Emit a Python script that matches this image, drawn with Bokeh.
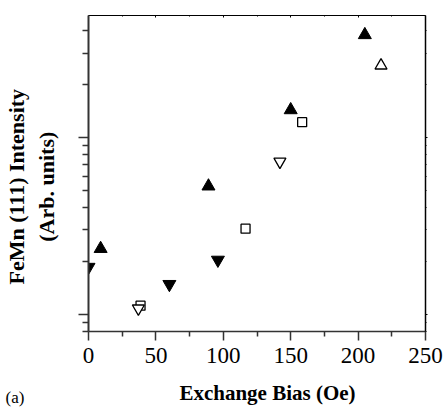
from bokeh.plotting import figure
from bokeh.models import Range1d, FixedTicker, LinearAxis, LogAxis, Title, CustomJSTickFormatter
from bokeh.embed import file_html
from bokeh.resources import INLINE

# data (exchange bias in Oe, FeMn (111) intensity in arbitrary units)
up_filled_x = [9, 89, 150, 205]
up_filled_y = [2.35, 5.3, 14.3, 38.0]
down_filled_x = [0, 60, 96]
down_filled_y = [1.85, 1.48, 2.03]
square_open_x = [38.6, 116.5, 158.5]
square_open_y = [1.12, 3.05, 12.2]
down_open_x = [37, 142]
down_open_y = [1.08, 7.3]
up_open_x = [217]
up_open_y = [25.5]

x_ticks = [0, 50, 100, 150, 200, 250]
x_minor = [25, 75, 125, 175, 225]
y_ticks = [1, 10]
y_minor = [0.8, 0.9, 2, 3, 4, 5, 6, 7, 8, 9, 20, 30, 40]

x_label = "\u2002\u2002Exchange Bias (Oe)"
y_label = "FeMn (111) Intensity\u2003\u2009\n(Arb. units)\u2003\u2009"
panel_label = "(a)"

FONT = "Liberation Serif"
AXC = "#333333"

def blank():
    return CustomJSTickFormatter(code="return ''")

p = figure(width=446, height=407, output_backend="svg", toolbar_location=None,
           y_axis_type="log", x_range=Range1d(0, 250), y_range=Range1d(0.8, 48.9),
           min_border_left=88, min_border_right=21, min_border_top=15, min_border_bottom=76)
p.grid.visible = False
p.outline_line_color = None
p.background_fill_color = "white"
p.border_fill_color = "white"

xt = FixedTicker(ticks=x_ticks, minor_ticks=x_minor)
yt = FixedTicker(ticks=y_ticks, minor_ticks=y_minor)

xa = p.xaxis[0]
xa.ticker = xt
xa.axis_line_color = AXC
xa.axis_line_width = 1.5
xa.major_tick_line_color = AXC
xa.minor_tick_line_color = AXC
xa.major_tick_line_width = 1.5
xa.minor_tick_line_width = 1.5
xa.major_tick_out = 9
xa.major_tick_in = 0
xa.minor_tick_out = 5
xa.minor_tick_in = 0
xa.major_label_text_font = FONT
xa.major_label_text_font_size = "23px"
xa.major_label_text_color = "black"
xa.major_label_standoff = 7
xa.axis_label = x_label
xa.axis_label_text_font = FONT
xa.axis_label_text_font_style = "bold"
xa.axis_label_text_font_size = "21px"
xa.axis_label_text_color = "black"
xa.axis_label_standoff = 15

ya = p.yaxis[0]
ya.ticker = yt
ya.formatter = blank()
ya.axis_line_color = AXC
ya.axis_line_width = 2
ya.major_tick_line_color = AXC
ya.minor_tick_line_color = AXC
ya.major_tick_line_width = 1.5
ya.minor_tick_line_width = 1.5
ya.major_tick_out = 10
ya.major_tick_in = 0
ya.minor_tick_out = 6
ya.minor_tick_in = 0
ya.major_label_standoff = 0
ya.axis_label = y_label
ya.axis_label_text_font = FONT
ya.axis_label_text_font_style = "bold"
ya.axis_label_text_font_size = "22px"
ya.axis_label_text_color = "black"
ya.axis_label_standoff = 20

ta = LinearAxis(ticker=xt, formatter=blank(), axis_line_color="black", major_label_standoff=0,
                axis_line_width=1, major_tick_line_color="black", minor_tick_line_color="black",
                major_tick_out=0, major_tick_in=2, minor_tick_out=0, minor_tick_in=1)
p.add_layout(ta, "above")
ra = LogAxis(ticker=yt, formatter=blank(), axis_line_color="black", major_label_standoff=0,
             axis_line_width=1.5, major_tick_line_color="black", minor_tick_line_color="black",
             major_tick_out=2, major_tick_in=0, minor_tick_out=1, minor_tick_in=0)
p.add_layout(ra, "right")

p.add_layout(Title(text=panel_label, text_font=FONT, text_font_size="17px",
                   text_font_style="normal", text_color="black", align="left",
                   offset=-83, vertical_align="top", standoff=-40), "below")

p.scatter(up_filled_x, up_filled_y, marker="triangle", size=13,
          fill_color="black", line_color="black")
p.scatter(down_filled_x, down_filled_y, marker="inverted_triangle", size=13,
          fill_color="black", line_color="black")
p.scatter(square_open_x, square_open_y, marker="square", size=9,
          fill_color="white", line_color="black", line_width=1.3)
p.scatter(down_open_x, down_open_y, marker="inverted_triangle", size=12,
          fill_color="white", line_color="black", line_width=1.3)
p.scatter(up_open_x, up_open_y, marker="triangle", size=12,
          fill_color="white", line_color="black", line_width=1.3)

open("out.html", "w").write(file_html(p, INLINE))
